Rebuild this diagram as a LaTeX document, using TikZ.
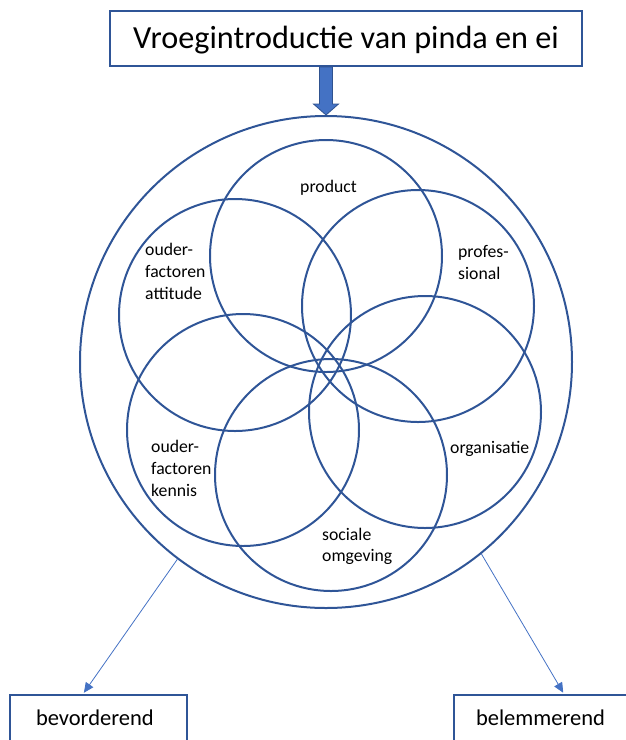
\documentclass[tikz,border=0pt]{standalone}
\usepackage{fontspec}
\setmainfont{Carlito}
\usetikzlibrary{arrows.meta}
\definecolor{cdark}{HTML}{2F5597}
\definecolor{cfill}{HTML}{4472C4}
\definecolor{cedge}{HTML}{2F528F}
\definecolor{clight}{HTML}{4472C4}
\begin{document}
\begin{tikzpicture}[x=1pt,y=-1pt,
  ring/.style={draw=cdark, line width=2pt, circle, inner sep=0pt, minimum size=232pt},
  bigring/.style={draw=cdark, line width=2pt, circle, inner sep=0pt, minimum size=492pt},
  lbl/.style={font=\fontsize{17.7}{21}\selectfont, anchor=base west, inner sep=0pt},
  titlebox/.style={draw=cdark, line width=2pt, text height=37pt, text depth=18pt, inner ysep=0pt,
    minimum width=472pt, font=\fontsize{32.2}{36}\selectfont, anchor=base},
  outbox/.style={draw=cdark, line width=2pt, text height=30pt, text depth=45pt, inner ysep=0pt,
    align=left, font=\fontsize{22.5}{26}\selectfont, anchor=base west},
  conn/.style={draw=clight, line width=0.8pt, -{Triangle[length=10pt,width=9pt]}, shorten >=1.5pt}]
\useasboundingbox (0,0) rectangle (626,740);

% title and block arrow
\node[titlebox] (title) at (346,48) {Vroegintroductie van pinda en ei};
\node[bigring] (outer) at (326,362) {};
\coordinate (arrtop) at (outer.north |- title.south);
\filldraw[fill=cfill, draw=cedge, line width=0.8pt]
  ([xshift=-6.5pt]arrtop) -- ++(0,37) -- ++(-6,0) -- (outer.north) -- ([xshift=12.5pt,yshift=-37pt]arrtop)
  -- ++(-6,0) -- ([xshift=6.5pt]arrtop) -- cycle;

% six circles
\node[ring] (cprod) at (326,256) {};
\node[ring] (cprof) at (418,306) {};
\node[ring] (corg)  at (425,412) {};
\node[ring] (csoc)  at (331,475) {};
\node[ring] (cken)  at (243,430) {};
\node[ring] (catt)  at (235,315) {};

% labels
\node[lbl, anchor=base] (tprod) at (328.5,192) {product};
\node[lbl] (tatt1) at (145,255.5) {ouder-};
\node[lbl] (tatt2) at (145,277.5) {factoren};
\node[lbl] (tatt3) at (145,299.5) {attitude};
\node[lbl] (tprof1) at (458,257.5) {profes-};
\node[lbl] (tprof2) at (458,279) {sional};
\node[lbl] (tken1) at (151,452.5) {ouder-};
\node[lbl] (tken2) at (151,474.5) {factoren};
\node[lbl] (tken3) at (151,496.5) {kennis};
\node[lbl] (torg) at (450,453) {organisatie};
\node[lbl] (tsoc1) at (322,540) {sociale};
\node[lbl] (tsoc2) at (322,561.5) {omgeving};

% bottom boxes
\node[outbox, inner xsep=26pt, text width=125pt] (bev) at (9,725) {bevorderend};
\node[outbox, inner xsep=22pt, text width=135pt] (bel) at (453,725) {belemmerend};

% connectors
\draw[conn] (outer.233) -- ([xshift=-15.5pt]bev.north);
\draw[conn] (outer.309) -- ([xshift=20.5pt]bel.north);
\end{tikzpicture}
\end{document}
